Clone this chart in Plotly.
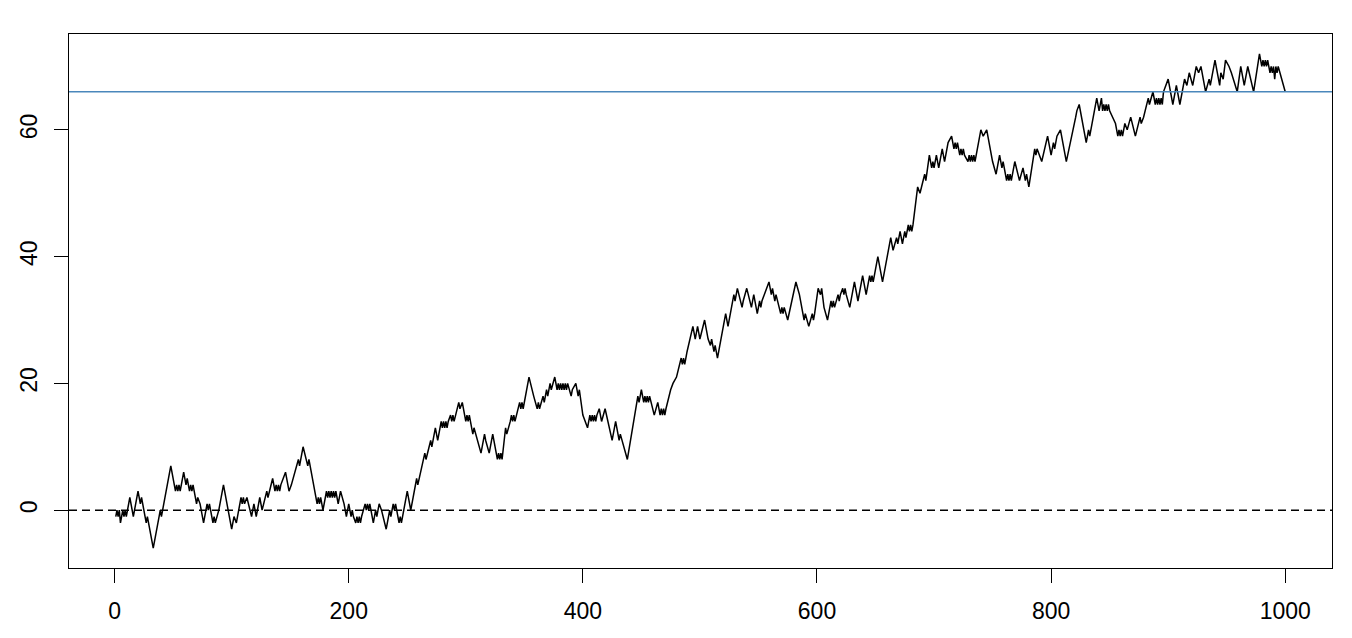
import plotly.graph_objects as go

# Key points of the walk (step index, value)
walk_steps = [
    1, 2, 3, 4, 5, 7, 8, 9, 10, 13, 16, 20, 22, 23, 27, 28, 29, 33, 38, 39, 40, 48,
    51, 52, 53, 54, 55, 56, 57, 59, 61, 62, 64, 65, 66, 67, 70, 71, 73, 76, 79, 80, 81, 84, 85, 86, 89, 93, 100,
    102, 104, 106, 108, 109, 110, 111, 113, 117, 119, 121, 124, 126, 130, 131, 135, 137, 138, 139, 140, 141, 142,
    144, 146, 149, 151, 157, 158, 161, 165, 166, 169, 172, 173, 174, 175, 176, 178, 181, 182, 183, 184, 185, 186,
    187, 188, 189, 191, 193, 196, 198, 199, 200, 202, 203, 204, 206, 207, 208, 209, 210, 211, 214, 215, 216, 217,
    218, 221, 223, 224, 226, 228, 232, 235, 236, 238, 239, 240, 243, 244, 245, 250, 253, 258, 259, 265, 266, 270,
    271, 274, 276, 279, 280, 281, 282, 283, 284, 285, 287, 288, 289, 290, 294, 295, 297, 300, 301, 302, 303, 306,
    307, 313, 316, 317, 320, 323, 327, 328, 329, 330, 331, 334, 335, 338, 339, 340, 341, 342, 346, 347, 348, 349,
    350, 354, 358, 361, 362, 363, 366, 367, 369, 370, 372, 373, 376, 378, 379, 380, 381, 382, 383, 384, 385, 386,
    387, 390, 391, 394, 396, 397, 400, 402, 404, 405, 406, 407, 408, 409, 410, 411, 412, 414, 416, 419, 425, 428,
    431, 432, 435, 438, 447, 448, 450, 451, 452, 453, 454, 455, 456, 457, 461, 464, 466, 467, 468, 469, 470, 471,
    475, 477, 480, 484, 485, 486, 487, 488, 489, 494, 496, 498, 500, 504, 507, 509, 510, 512, 513, 515, 522, 524,
    525, 529, 530, 532, 536, 537, 540, 544, 546, 549, 551, 552, 553, 557, 559, 561, 562, 564, 565, 569, 570, 571,
    572, 575, 582, 585, 589, 590, 593, 596, 597, 598, 601, 603, 604, 606, 609, 612, 613, 614, 615, 618, 619, 620,
    622, 623, 624, 625, 628, 632, 635, 639, 642, 645, 646, 647, 648, 649, 652, 656, 663, 665, 668, 669, 671, 673,
    675, 676, 678, 679, 680, 681, 682, 686, 688, 692, 693, 696, 698, 699, 700, 702, 704, 707, 709, 712, 715, 717,
    718, 719, 720, 722, 723, 724, 725, 726, 729, 730, 731, 732, 733, 734, 735, 740, 742, 745, 750, 753, 756, 758,
    759, 762, 763, 764, 765, 766, 769, 773, 776, 778, 779, 781, 786, 787, 788, 792, 797, 800, 802, 803, 805, 808,
    813, 821, 822, 824, 826, 830, 832, 833, 839, 841, 843, 844, 845, 846, 847, 848, 849, 850, 855, 857, 858, 859,
    860, 861, 862, 863, 865, 868, 872, 876, 877, 879, 883, 884, 887, 889, 890, 891, 892, 893, 894, 895, 896, 900,
    904, 907, 910, 914, 916, 918, 921, 924, 926, 928, 932, 935, 936, 940, 944, 945, 947, 949, 952, 954, 959, 962,
    965, 968, 973, 978, 979, 980, 981, 982, 983, 984, 985, 987, 988, 989, 990, 991, 992, 993, 994, 1000,
]
walk_values = [
    -1, 0, -1, 0, -2, 0, -1, 0, -1, 2, -1, 3, 1, 2, -2, -1, -2, -6, -1, 0, -1, 7,
    4, 3, 4, 3, 4, 3, 4, 6, 4, 5, 3, 4, 3, 4, 1, 2, 1, -2, 1, 0, 1, -2, -1, -2, 0, 4, -3,
    -1, -2, 0, 2, 1, 2, 1, 2, -1, 1, -1, 2, 0, 3, 2, 5, 3, 4, 3, 4, 3, 4,
    5, 6, 3, 4, 8, 7, 10, 7, 8, 5, 2, 1, 2, 1, 2, 0, 3, 2, 3, 2, 3, 2,
    3, 2, 3, 1, 3, 1, -1, 0, 1, -1, 0, -1, -2, -1, -2, -1, -2, -1, 1, 0, 1, 0,
    1, -2, 0, -1, 1, 0, -3, 0, -1, 1, 0, 1, -2, -1, -2, 3, 0, 5, 4, 9, 8, 11,
    10, 13, 11, 14, 13, 14, 13, 14, 13, 14, 15, 14, 15, 14, 17, 16, 17, 14, 15, 14, 15, 12,
    13, 9, 12, 11, 9, 12, 8, 9, 8, 9, 8, 13, 12, 14, 15, 14, 15, 14, 17, 16, 17, 16,
    17, 21, 18, 16, 17, 16, 18, 17, 19, 18, 20, 19, 21, 19, 20, 19, 20, 19, 20, 19, 20, 19,
    20, 18, 19, 20, 18, 19, 15, 14, 13, 14, 15, 14, 15, 14, 15, 14, 15, 16, 14, 16, 11, 14,
    11, 12, 10, 8, 18, 17, 19, 18, 17, 18, 17, 18, 17, 18, 15, 17, 15, 16, 15, 16, 15, 16,
    19, 20, 21, 24, 23, 24, 23, 24, 25, 29, 27, 29, 27, 30, 27, 26, 27, 25, 26, 24, 31, 29,
    30, 34, 33, 35, 32, 33, 35, 32, 34, 31, 33, 32, 33, 35, 36, 34, 35, 33, 34, 31, 32, 31,
    32, 30, 36, 34, 30, 31, 29, 31, 30, 31, 35, 34, 35, 32, 30, 33, 32, 33, 32, 34, 33, 34,
    35, 34, 35, 34, 32, 36, 33, 37, 34, 37, 36, 37, 36, 37, 40, 36, 43, 41, 43, 42, 44, 42,
    44, 43, 45, 44, 45, 44, 45, 51, 50, 53, 52, 56, 54, 55, 54, 56, 54, 57, 55, 58, 59, 57,
    58, 57, 58, 56, 57, 56, 57, 56, 55, 56, 55, 56, 55, 56, 55, 60, 59, 60, 55, 53, 56, 54,
    55, 52, 53, 52, 53, 52, 55, 52, 54, 52, 53, 51, 57, 56, 57, 55, 59, 56, 58, 57, 59, 60,
    55, 62, 63, 64, 62, 58, 60, 59, 65, 63, 65, 63, 64, 63, 64, 63, 64, 63, 61, 59, 60, 59,
    60, 59, 60, 61, 60, 62, 59, 62, 61, 62, 65, 64, 66, 64, 65, 64, 65, 64, 65, 64, 66, 68,
    64, 67, 64, 68, 67, 69, 67, 70, 69, 70, 66, 68, 67, 71, 67, 69, 68, 71, 70, 69, 66, 70,
    67, 70, 66, 72, 71, 70, 71, 70, 71, 70, 71, 69, 70, 69, 70, 68, 70, 69, 70, 66,
]

x_tick_vals = [0, 200, 400, 600, 800, 1000]
y_tick_vals = [0, 20, 40, 60]
zero_level = 0
final_level = walk_values[-1]

n_steps = 1000
lo, hi = min(walk_values), max(walk_values)
x_pad = (n_steps - 1) * 0.04
y_pad = (hi - lo) * 0.04

fig = go.Figure()
fig.add_trace(go.Scatter(
    x=walk_steps, y=walk_values, mode="lines",
    line=dict(color="black", width=1.5), hoverinfo="skip", showlegend=False,
))

fig.add_shape(type="line", xref="paper", x0=0, x1=1, yref="y", y0=zero_level, y1=zero_level,
              line=dict(color="black", width=1.5, dash="8px,5px"))
fig.add_shape(type="line", xref="paper", x0=0, x1=1, yref="y", y0=final_level, y1=final_level,
              line=dict(color="#4A87BB", width=1.5))

axis_font = dict(family="Liberation Sans, Arial, Helvetica, sans-serif", size=23, color="black")
fig.update_xaxes(
    range=[1 - x_pad, n_steps + x_pad], tickvals=x_tick_vals, ticks="outside", ticklen=14,
    tickwidth=1, tickcolor="black", showline=True, linecolor="black", linewidth=1, mirror=True,
    showgrid=False, zeroline=False, tickfont=axis_font, ticklabelstandoff=8, automargin=False,
)
fig.update_yaxes(
    range=[lo - y_pad, hi + y_pad], tickvals=y_tick_vals, ticks="outside", ticklen=14,
    tickwidth=1, tickcolor="black", showline=True, linecolor="black", linewidth=1, mirror=True,
    showgrid=False, zeroline=False, tickangle=-90, tickfont=axis_font, ticklabelstandoff=8,
    automargin=False,
)
fig.update_layout(
    width=1336, height=622,
    margin=dict(l=61, r=12, t=26, b=62),
    paper_bgcolor="white", plot_bgcolor="white",
)
fig.write_html("out.html")
